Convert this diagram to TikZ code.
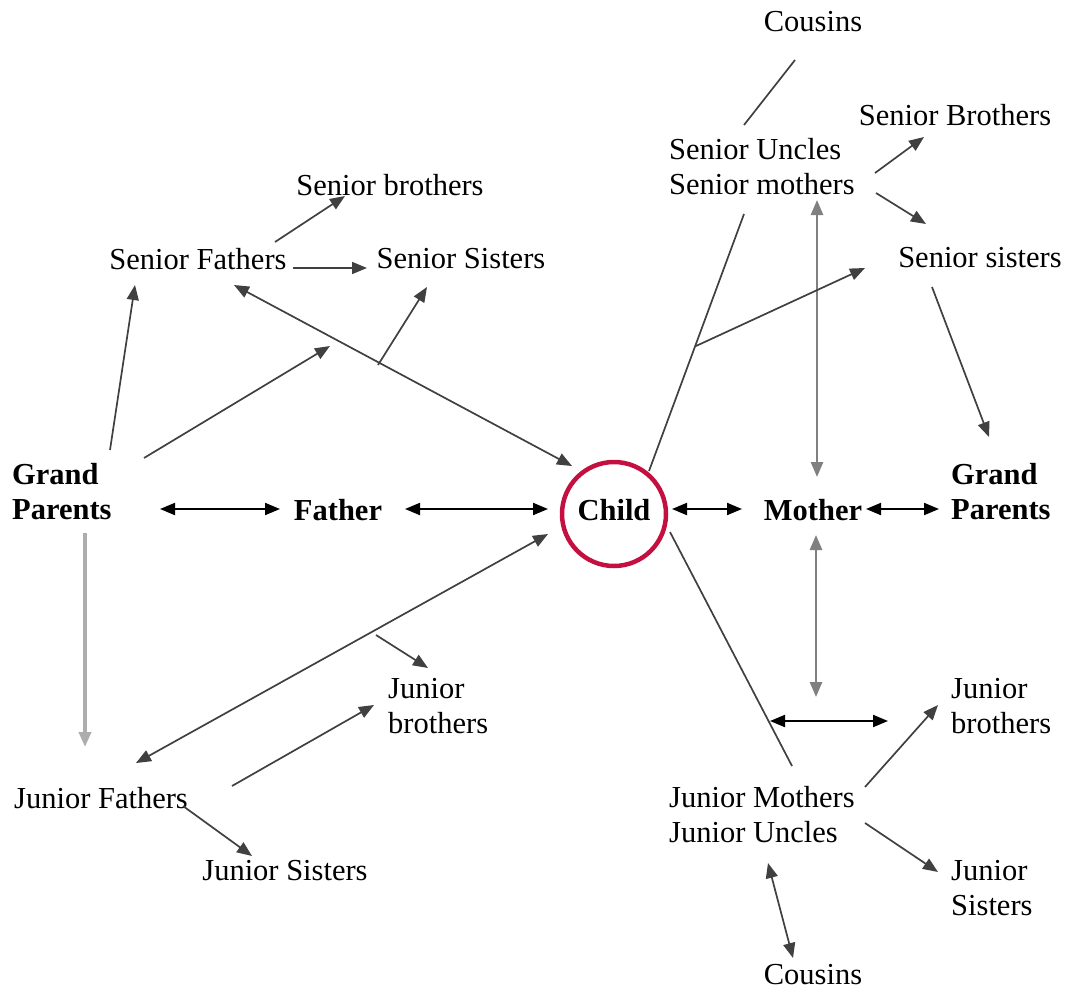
\documentclass[tikz,border=0pt]{standalone}
\usepackage{fontspec}
\setmainfont{Liberation Serif}
\usetikzlibrary{arrows.meta}
\definecolor{crim}{HTML}{C41040}
\begin{document}
\begin{tikzpicture}[x=1pt,y=-1pt,
  lbl/.style={inner sep=0pt, font=\fontsize{30.5}{35}\selectfont},
  blbl/.style={inner sep=0pt, font=\fontsize{30.5}{35}\selectfont\bfseries},
  ln/.style={draw=black!75, line width=1.7pt},
  tip/.tip={Triangle[length=15pt,width=12pt]},
  arr/.style={ln, -tip},
  darr/.style={ln, tip-tip},
  harr/.style={draw=black, line width=2pt, tip-tip},
  varr/.style={draw=black!50, line width=2.6pt, tip-tip},
  garr/.style={draw=black!32, line width=4pt, -tip}
]
\useasboundingbox (0,0) rectangle (1065,990);
% nodes
\node[lbl] (cousT) at (813,22) {Cousins};
\node[lbl, align=left, anchor=west] (sun) at (669,167) {Senior Uncles\\Senior mothers};
\node[lbl] (sbR) at (955,115) {Senior Brothers};
\node[lbl] (ssR) at (980,258) {Senior sisters};
\node[lbl] (sbL) at (390,185) {Senior brothers};
\node[lbl] (sf) at (198,259) {Senior Fathers};
\node[lbl] (ssL) at (461,259) {Senior Sisters};
\node[blbl, align=left, anchor=west] (gpL) at (12,492) {Grand\\Parents};
\node[blbl] (fa) at (338,510) {Father};
\node[blbl] (ch) at (614,510) {Child};
\node[draw=crim, line width=4.5pt, circle, minimum size=104pt, inner sep=0pt] (chc) at (614,514) {};
\node[blbl] (mo) at (813,510) {Mother};
\node[blbl, align=left, anchor=west] (gpR) at (951,492) {Grand\\Parents};
\node[lbl, align=left, anchor=west] (jbL) at (388,706) {Junior\\brothers};
\node[lbl, align=left, anchor=west] (jbR) at (951,706) {Junior\\brothers};
\node[lbl] (jf) at (101,798) {Junior Fathers};
\node[lbl] (jsL) at (285,871) {Junior Sisters};
\node[lbl, align=left, anchor=west] (jmu) at (669,815) {Junior Mothers\\Junior Uncles};
\node[lbl, align=left, anchor=west] (jsR) at (951,888) {Junior\\Sisters};
\node[lbl] (cousB) at (813,975) {Cousins};
% connector end points
\coordinate (a1) at (795,60);   \coordinate (a2) at (744,125);
\coordinate (b1) at (875,173);  \coordinate (b2) at (924,137);
\coordinate (c1) at (876,193);  \coordinate (c2) at (926,224);
\coordinate (d1) at (932,287);  \coordinate (d2) at (989,437);
\coordinate (e1) at (817,200);  \coordinate (e2) at (817,477);
\coordinate (f1) at (744,214);  \coordinate (f2) at (649,471);
\coordinate (g1) at (696,346);  \coordinate (g2) at (865,268);
\coordinate (h1) at (672,509);  \coordinate (h2) at (742,509);
\coordinate (i1) at (866,509);  \coordinate (i2) at (939,509);
\coordinate (j1) at (816,535);  \coordinate (j2) at (816,697);
\coordinate (k1) at (770,721);  \coordinate (k2) at (888,721);
\coordinate (l1) at (670,532);  \coordinate (l2) at (792,766);
\coordinate (m1) at (865,787);  \coordinate (m2) at (938,705);
\coordinate (n1) at (865,823);  \coordinate (n2) at (938,872);
\coordinate (o1) at (768,863);  \coordinate (o2) at (793,958);
\coordinate (p1) at (110,450);  \coordinate (p2) at (135,285);
\coordinate (q1) at (144,458);  \coordinate (q2) at (330,346);
\coordinate (r1) at (378,365);  \coordinate (r2) at (427,287);
\coordinate (s1) at (234,285);  \coordinate (s2) at (572,466);
\coordinate (t1) at (160,509);  \coordinate (t2) at (280,509);
\coordinate (u1) at (405,509);  \coordinate (u2) at (548,509);
\coordinate (v1) at (85,533);   \coordinate (v2) at (85,747);
\coordinate (w1) at (548,534);  \coordinate (w2) at (136,763);
\coordinate (x1) at (376,635);  \coordinate (x2) at (428,668);
\coordinate (y1) at (232,786);  \coordinate (y2) at (374,705);
\coordinate (z1) at (183,806);  \coordinate (z2) at (252,856);
\coordinate (sb1) at (275,242); \coordinate (sb2) at (345,196);
\coordinate (ss1) at (293,268); \coordinate (ss2) at (367,268);
% connectors
\draw[ln] (a1) -- (a2);
\draw[arr] (b1) -- (b2);
\draw[arr] (c1) -- (c2);
\draw[arr] (d1) -- (d2);
\draw[varr] (e1) -- (e2);
\draw[ln] (f1) -- (f2);
\draw[arr] (g1) -- (g2);
\draw[harr] (h1) -- (h2);
\draw[harr] (i1) -- (i2);
\draw[varr] (j1) -- (j2);
\draw[harr] (k1) -- (k2);
\draw[ln] (l1) -- (l2);
\draw[arr] (m1) -- (m2);
\draw[arr] (n1) -- (n2);
\draw[darr] (o1) -- (o2);
\draw[arr] (p1) -- (p2);
\draw[arr] (q1) -- (q2);
\draw[arr] (r1) -- (r2);
\draw[darr] (s1) -- (s2);
\draw[harr] (t1) -- (t2);
\draw[harr] (u1) -- (u2);
\draw[garr] (v1) -- (v2);
\draw[darr] (w1) -- (w2);
\draw[arr] (x1) -- (x2);
\draw[arr] (y1) -- (y2);
\draw[arr] (z1) -- (z2);
\draw[arr] (sb1) -- (sb2);
\draw[arr] (ss1) -- (ss2);
\end{tikzpicture}
\end{document}
